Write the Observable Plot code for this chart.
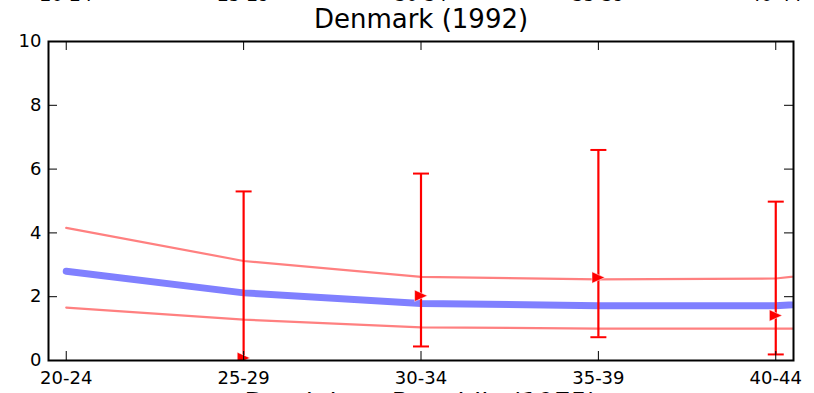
<!DOCTYPE html>
<html>
<head>
<meta charset="utf-8">
<script src="https://cdn.jsdelivr.net/npm/d3@7"></script>
<script src="https://cdn.jsdelivr.net/npm/@observablehq/plot@0.6"></script>
<style>
  html, body { margin: 0; padding: 0; background: white; overflow: hidden; }
  #chart svg { display: block; }
</style>
</head>
<body>
<div id="chart"></div>
<script>
// Age-group categories (tick labels)
const ageGroups = ["20-24", "25-29", "30-34", "35-39", "40-44"];
// Fitted curve continues one group beyond the visible range (clipped at frame)
const fitGroups = ["20-24", "25-29", "30-34", "35-39", "40-44", "45-49"];
const fitMid   = [2.80, 2.12, 1.79, 1.72, 1.72, 2.03];
const fitUpper = [4.16, 3.12, 2.62, 2.54, 2.57, 3.20];
const fitLower = [1.66, 1.28, 1.04, 1.00, 1.00, 1.00];
// Observed values with error bars
const obsGroups = ["25-29", "30-34", "35-39", "40-44"];
const obsValue  = [0.08, 2.03, 2.60, 1.41];
const obsLow    = [-0.5, 0.44, 0.73, 0.19];
const obsHigh   = [5.30, 5.86, 6.60, 4.98];
const yTicks = [0, 2, 4, 6, 8, 10];
const title = "Denmark (1992)";
const nextTitle = "Dominican Republic (1975)";

const idx = g => fitGroups.indexOf(g);
const fit = fitGroups.map((g, i) => ({x: idx(g), mid: fitMid[i], up: fitUpper[i], lo: fitLower[i]}));
const obs = obsGroups.map((g, i) => ({x: idx(g), v: obsValue[i], lo: obsLow[i], hi: obsHigh[i]}));
const tickIdx = ageGroups.map(idx);

const capSymbol = {draw(ctx, size) { const r = Math.sqrt(size / Math.PI); ctx.moveTo(-r, 0); ctx.lineTo(r, 0); }};
const triRight = {draw(ctx, size) { const r = Math.sqrt(size / Math.PI); ctx.moveTo(r, 0); ctx.lineTo(-r, -r * 0.9); ctx.lineTo(-r, r * 0.9); ctx.closePath(); }};

const W = 814, H = 393, mL = 48, mR = 21, mT = 41, mB = 33;
const fw = W - mL - mR, fh = H - mT - mB, tl = 9;

const chart = Plot.plot({
  width: W, height: H,
  marginLeft: mL, marginRight: mR, marginTop: mT, marginBottom: mB,
  style: {fontFamily: "DejaVu Sans", fontSize: "18px", background: "white", overflow: "visible"},
  x: {type: "linear", domain: [-0.1, 4.1]},
  y: {domain: [0, 10]},
  marks: [
    Plot.line(fit, {x: "x", y: "up", stroke: "#ff8080", strokeWidth: 2.2, clip: true}),
    Plot.line(fit, {x: "x", y: "lo", stroke: "#ff8080", strokeWidth: 2.2, clip: true}),
    Plot.line(fit, {x: "x", y: "mid", stroke: "#8080ff", strokeWidth: 7, clip: true}),
    Plot.ruleX(obs, {x: "x", y1: "lo", y2: "hi", stroke: "red", strokeWidth: 2.2, clip: true}),
    Plot.dot(obs.filter(d => d.lo >= 0), {x: "x", y: "lo", symbol: capSymbol, r: 8, stroke: "red", strokeWidth: 2, clip: true}),
    Plot.dot(obs, {x: "x", y: "hi", symbol: capSymbol, r: 8, stroke: "red", strokeWidth: 2, clip: true}),
    Plot.dot(obs, {x: "x", y: "v", symbol: triRight, r: 6.4, fill: "red", stroke: "white", strokeWidth: 0.5, clip: true}),
    // inward ticks on all four sides
    Plot.ruleX(tickIdx, {x: d => d, insetTop: fh - tl, stroke: "black", strokeWidth: 1}),
    Plot.ruleX(tickIdx, {x: d => d, insetBottom: fh - tl, stroke: "black", strokeWidth: 1}),
    Plot.ruleY(yTicks, {y: d => d, insetRight: fw - tl, stroke: "black", strokeWidth: 1}),
    Plot.ruleY(yTicks, {y: d => d, insetLeft: fw - tl, stroke: "black", strokeWidth: 1}),
    Plot.frame({stroke: "black", strokeWidth: 2}),
    Plot.axisX(tickIdx, {tickSize: 0, tickPadding: 11, tickFormat: i => ageGroups[i], label: null, fontSize: 18}),
    Plot.axisY(yTicks, {tickSize: 0, tickPadding: 7, label: null, fontSize: 18}),
    // previous subplot's x labels, cut off at the top
    Plot.text(tickIdx, {x: d => d, text: i => ageGroups[i], frameAnchor: "top", dy: -46, lineAnchor: "middle", fontSize: 18}),
    Plot.text([title], {text: d => d, frameAnchor: "top", dy: -21.5, lineAnchor: "middle", fontSize: 26}),
    Plot.text([nextTitle], {text: d => d, frameAnchor: "bottom", dy: 43, lineAnchor: "middle", fontSize: 26})
  ]
});
document.getElementById("chart").append(chart);
</script>
</body>
</html>
